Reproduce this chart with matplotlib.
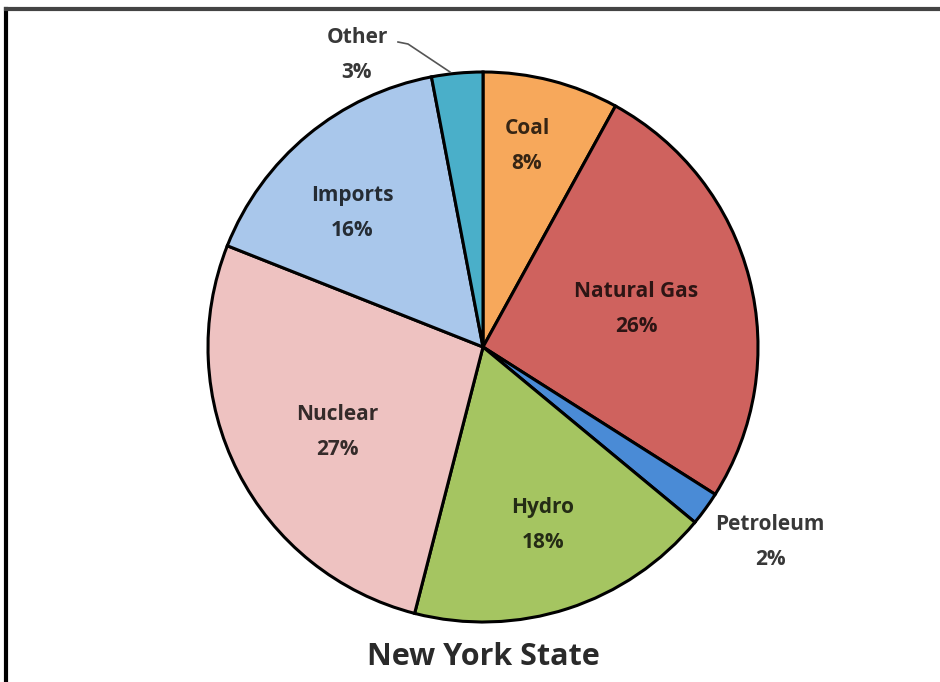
import matplotlib
matplotlib.use("Agg")
import matplotlib.pyplot as plt

# electricity generation mix, clockwise from 12 o'clock
sources = ["Coal", "Natural Gas", "Petroleum", "Hydro", "Nuclear", "Imports", "Other"]
shares = [8, 26, 2, 18, 27, 16, 3]
colors = ["#F7A85B", "#CF625E", "#4A8BD6", "#A5C561", "#EEC2C1", "#A9C7EB", "#4AAFC9"]

W, H = 940, 682
plt.rcParams['font.family'] = ['Open Sans', 'DejaVu Sans']

fig = plt.figure(figsize=(W / 100, H / 100), dpi=100)
ax = fig.add_axes([0, 0, 1, 1])

cx, cy, r = 483, H - 347, 275
wedges, _ = ax.pie(shares, colors=colors, startangle=90, counterclock=False,
                   center=(cx, cy), radius=r, frame=True,
                   wedgeprops=dict(edgecolor='black', linewidth=2.2))
ax.set_xlim(0, W)
ax.set_ylim(0, H)
ax.set_aspect('equal')
ax.axis('off')

# label centres in pixel space (x, y from top)
label_pos = {
    "Coal": (527, 146),
    "Natural Gas": (636, 309),
    "Petroleum": (770, 542),
    "Hydro": (543, 525),
    "Nuclear": (337, 432),
    "Imports": (352, 213),
    "Other": (357, 55),
}
for name, val in zip(sources, shares):
    x, y = label_pos[name]
    ax.text(x, H - y, f"{name}\n{val}%", ha='center', va='center',
            fontsize=15, fontweight='bold', color='black', alpha=0.78,
            linespacing=1.85)

# leader line for the small slice
ax.plot([398, 408, 450], [H - 42, H - 44, H - 72], color='#555555', lw=1.2)

ax.text(cx, H - 657, "New York State", ha='center', va='center',
        fontsize=22, fontweight='bold', color='#2a2a2a')

# outer frame
ax.plot([6, 6], [0, H - 9], color='black', lw=3)
ax.plot([6, W], [H - 9, H - 9], color='#444444', lw=3)

fig.savefig("out.png", dpi=100, facecolor='white')
